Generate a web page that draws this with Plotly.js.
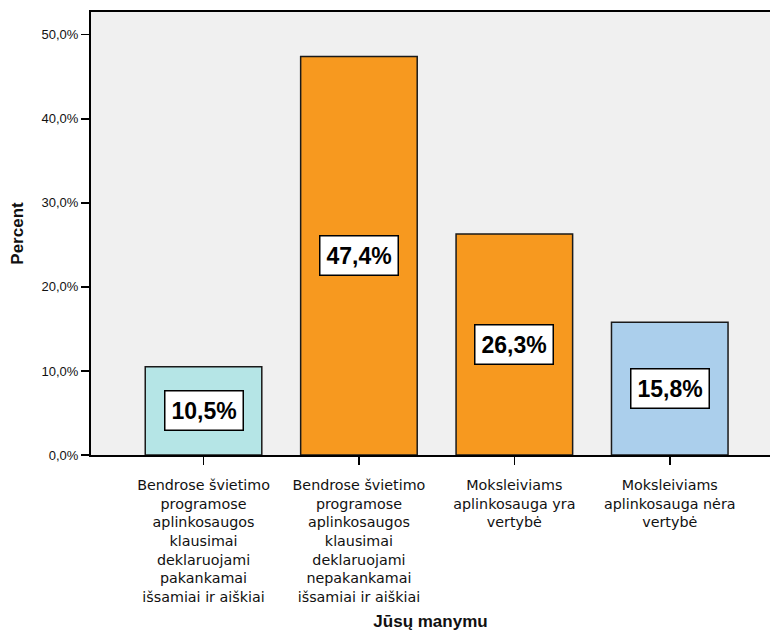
<!DOCTYPE html>
<html>
<head>
<meta charset="utf-8">
<script src="https://cdn.plot.ly/plotly-3.0.1.min.js"></script>
<style>html,body{margin:0;padding:0;background:#fff;}#chart{width:770px;height:631px;}</style>
</head>
<body>
<div id="chart"></div>
<script>
const categories = [
  "Bendrose švietimo<br>programose<br>aplinkosaugos<br>klausimai<br>deklaruojami<br>pakankamai<br>išsamiai ir aiškiai",
  "Bendrose švietimo<br>programose<br>aplinkosaugos<br>klausimai<br>deklaruojami<br>nepakankamai<br>išsamiai ir aiškiai",
  "Moksleiviams<br>aplinkosauga yra<br>vertybė",
  "Moksleiviams<br>aplinkosauga nėra<br>vertybė"
];
const percents = [10.5, 47.4, 26.3, 15.8];
const barColors = ["#b5e5e6", "#f7991f", "#f7991f", "#abcfec"];
const yTickVals = [0, 10, 20, 30, 40, 50];
const yTickText = ["0,0%", "10,0%", "20,0%", "30,0%", "40,0%", "50,0%"];

const ARIAL = "Liberation Sans, Arial, sans-serif";

const trace = {
  type: "bar",
  x: categories,
  y: percents,
  width: 0.75,
  marker: { color: barColors, line: { color: "#1a1a1a", width: 1.5 } },
  hoverinfo: "none"
};

const annotations = percents.map((v, i) => ({
  x: categories[i],
  y: v / 2,
  xref: "x", yref: "y",
  text: "<b>" + v.toFixed(1).replace(".", ",") + "%</b>",
  showarrow: false,
  font: { family: ARIAL, size: 23, color: "#000" },
  bgcolor: "#ffffff",
  bordercolor: "#000000",
  borderwidth: 1.5,
  borderpad: 6
}));

const layout = {
  width: 770, height: 631,
  margin: { l: 91, r: 0, t: 12, b: 176 },
  paper_bgcolor: "#ffffff",
  plot_bgcolor: "#f0f0f0",
  showlegend: false,
  font: { family: ARIAL, color: "#000" },
  xaxis: {
    range: [-0.724, 3.645],
    showline: true, linecolor: "#000", linewidth: 2, mirror: true,
    ticks: "outside", ticklen: 8, tickcolor: "#000", tickwidth: 1.5,
    ticklabelstandoff: 8,
    tickfont: { family: "DejaVu Sans, sans-serif", size: 14.3, color: "#111" },
    showgrid: false, zeroline: false,
    title: { text: "<b>Jūsų manymu</b>", font: { family: ARIAL, size: 17, color: "#111" }, standoff: 12 }
  },
  yaxis: {
    range: [0, 52.7],
    tickvals: yTickVals, ticktext: yTickText,
    showline: true, linecolor: "#000", linewidth: 2,
    ticks: "outside", ticklen: 8, tickcolor: "#000", tickwidth: 1.5,
    tickfont: { family: ARIAL, size: 13, color: "#111" },
    showgrid: false, zeroline: false,
    title: { text: "<b>Percent</b>", font: { family: ARIAL, size: 17, color: "#111" }, standoff: 14 }
  },
  annotations: annotations
};

Plotly.newPlot("chart", [trace], layout, { displayModeBar: false, staticPlot: true });
</script>
</body>
</html>
